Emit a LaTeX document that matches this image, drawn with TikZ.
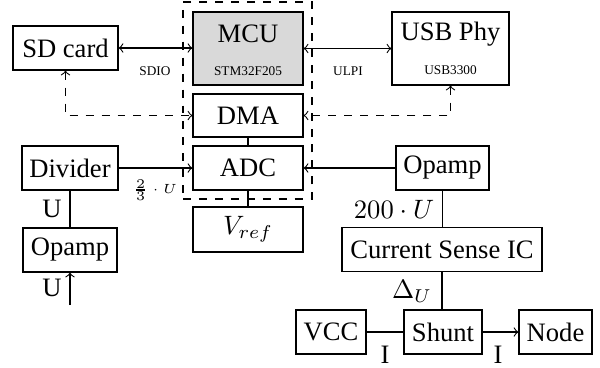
\documentclass[tikz,border=0pt]{standalone}
\usepackage{fontspec}
\setmainfont{Liberation Serif}
\begin{document}
\begin{tikzpicture}[x=0.376pt,y=-0.376pt,
  box/.style={draw,inner sep=0pt,minimum height={44*0.376pt}},
  lbl/.style={inner sep=0pt},
  small/.style={inner sep=0pt,font=\tiny},
  >=to]
\useasboundingbox (0,0) rectangle (600,367);
% dashed MCU region
\node[draw,dashed,minimum width={129*0.376pt},minimum height={197*0.376pt},inner sep=0pt] (cpu) at (247.5,100.5) {};
% boxes
\node[box,minimum width={105*0.376pt}] (sd) at (65.5,48) {SD card};
\node[box,fill=gray!30,minimum width={110*0.376pt},minimum height={73*0.376pt}] (mcu) at (248,48.5) {};
\node[lbl] (mcut) at (248,34) {MCU};
\node[small] (mcus) at (248,71) {STM32F205};
\node[box,minimum width={117*0.376pt},minimum height={73*0.376pt}] (usb) at (450.5,48.5) {};
\node[lbl] (usbt) at (450.5,34) {USB Phy};
\node[small] (usbs) at (450.5,70) {USB3300};
\node[box,minimum width={110*0.376pt},minimum height={43*0.376pt}] (dma) at (248,115.5) {DMA};
\node[box,minimum width={110*0.376pt}] (adc) at (248,168) {ADC};
\node[box,minimum width={110*0.376pt},minimum height={45*0.376pt}] (vref) at (248,229.5) {$V_{ref}$};
\node[box,minimum width={96*0.376pt}] (div) at (70,168) {Divider};
\node[box,minimum width={94*0.376pt}] (opl) at (70,250) {Opamp};
\node[box,minimum width={93*0.376pt}] (opr) at (442.5,168) {Opamp};
\node[box,minimum width={200*0.376pt}] (csi) at (442,249.5) {Current Sense IC};
\node[box,minimum width={70*0.376pt}] (vcc) at (331,332) {VCC};
\node[box,minimum width={78*0.376pt}] (shunt) at (443,332) {Shunt};
\node[box,minimum width={73*0.376pt}] (node) at (555.5,332) {Node};
\coordinate (uin) at (70,305);
% connectors
\draw[<->] (sd.east) -- (sd.east -| mcu.west);
\draw[<->] (mcu.east) -- (mcu.east -| usb.west);
\draw[<->,dashed] (sd.south) |- (dma.west);
\draw[<->,dashed] (usb.south) |- (dma.east);
\draw (dma) -- (adc);
\draw (adc) -- (vref);
\draw[->] (div.east) -- (adc.west);
\draw[->] (opr.west) -- (opr.west -| adc.east);
\draw (div) -- (opl);
\draw[->] (uin) -- (opl.south);
\draw (opr.south) -- (opr.south |- csi.north);
\draw (csi.south) -- (csi.south |- shunt.north);
\draw (vcc) -- (shunt);
\draw[->] (shunt) -- (node);
% labels
\node[small] (sdio) at (155,71) {SDIO};
\node[small] (ulpi) at (348,71) {ULPI};
\node[small] (frac) at (155,190) {$\frac{2}{3}\cdot U$};
\node[lbl] (u1) at (52,209) {U};
\node[lbl] (u2) at (52,288) {U};
\node[lbl] (l200) at (394,209) {$200\cdot U$};
\node[lbl] (ldu) at (412,291) {$\Delta_U$};
\node[lbl] (i1) at (385,355) {I};
\node[lbl] (i2) at (498,355) {I};
\end{tikzpicture}
\end{document}
